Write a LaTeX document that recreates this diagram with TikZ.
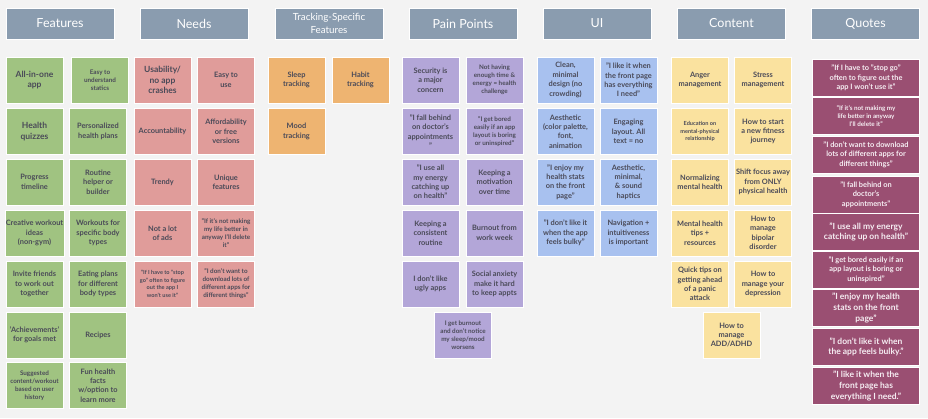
\documentclass[tikz,border=0pt]{standalone}
\usepackage{fontspec}
\setmainfont{Lato}
\definecolor{bg}{HTML}{F3F3F3}
\definecolor{slate}{HTML}{8A9CAF}
\definecolor{ink}{HTML}{4A4A58}
\definecolor{qtext}{HTML}{F6EEF3}
\definecolor{grn}{HTML}{A0C381}
\definecolor{rose}{HTML}{E09C9A}
\definecolor{amber}{HTML}{EEB471}
\definecolor{lilac}{HTML}{B3A6D8}
\definecolor{sky}{HTML}{A8C1EF}
\definecolor{butter}{HTML}{FAE29F}
\definecolor{plum}{HTML}{9A4F72}
\begin{document}
\begin{tikzpicture}[x=1pt, y=-1pt,
    hdr/.style={fill=slate, draw=white, line width=0.6pt, minimum width=108pt,
      minimum height=31pt, inner sep=1pt, align=center, text=white,
      font=\fontsize{12.5}{14}\selectfont},
    sticky/.style={draw=white, line width=0.6pt, minimum width=57pt,
      minimum height=46pt, inner sep=1pt, align=center, text=ink},
    quo/.style={fill=plum, draw=white, line width=0.6pt, minimum width=107pt,
      minimum height=37pt, inner sep=1pt, align=center, text=qtext},
    fL/.style={font=\bfseries\fontsize{8.5}{10.6}\selectfont},
    fM/.style={font=\bfseries\fontsize{7.4}{9.4}\selectfont},
    fS/.style={font=\bfseries\fontsize{6.3}{8}\selectfont},
    fXS/.style={font=\bfseries\fontsize{5.6}{7.5}\selectfont}]
  \fill[bg] (0,0) rectangle (928,418);
  \useasboundingbox (0,0) rectangle (928,418);
  % column headers
  \node[hdr] (hf) at (60,23.5) {Features};
  \node[hdr] (hn) at (194,23.5) {Needs};
  \node[hdr, font=\fontsize{9.8}{12.5}\selectfont] (ht) at (329,23.5) {Tracking-Specific\\Features};
  \node[hdr] (hp) at (463,23.5) {Pain Points};
  \node[hdr] (hu) at (597,23.5) {UI};
  \node[hdr] (hc) at (731.5,23.5) {Content};
  \node[hdr] (hq) at (865.5,23.5) {Quotes};
  % features
  \begin{scope}[xshift=34.5pt, sticky/.append style={fill=grn}]
    \node[sticky, fL] (f1) at (0,80) {All-in-one\\app};
    \node[sticky, fS] (f2) at (65.5,80) {Easy to\\understand\\statics};
    \node[sticky, fL] (f3) at (0,131.5) {Health\\quizzes};
    \node[sticky, fM] (f4) at (63.5,131.5) {Personalized\\health plans};
    \node[sticky, fM] (f5) at (0,182) {Progress\\timeline};
    \node[sticky, fM] (f6) at (63.5,182) {Routine\\helper or\\builder};
    \node[sticky, fM] (f7) at (0,233) {Creative workout\\ideas\\(non-gym)};
    \node[sticky, fM] (f8) at (63.5,233) {Workouts for\\specific body\\types};
    \node[sticky, fM] (f9) at (0,284) {Invite friends\\to work out\\together};
    \node[sticky, fM] (f10) at (63.5,284) {Eating plans\\for different\\body types};
    \node[sticky, fM] (f11) at (0,335) {'Achievements'\\for goals met};
    \node[sticky, fM] (f12) at (63.5,335) {Recipes};
    \node[sticky, fS] (f13) at (0,385.5) {Suggested\\content/workout\\based on user\\history};
    \node[sticky, fM] (f14) at (63.5,385.5) {Fun health\\facts\\w/option to\\learn more};
  \end{scope}
  % needs
  \begin{scope}[xshift=162.5pt, sticky/.append style={fill=rose}]
    \node[sticky, fL] (n1) at (0,80) {Usability/\\no app\\crashes};
    \node[sticky, fM] (n2) at (63.5,80) {Easy to\\use};
    \node[sticky, fM] (n3) at (0,131.5) {Accountability};
    \node[sticky, fM] (n4) at (63.5,131.5) {Affordability\\or free\\versions};
    \node[sticky, fM] (n5) at (0,182) {Trendy};
    \node[sticky, fM] (n6) at (63.5,182) {Unique\\features};
    \node[sticky, fM] (n7) at (0,233) {Not a lot\\of ads};
    \node[sticky, fS] (n8) at (63.5,233) {"If it's not making\\my life better in\\anyway I'll delete\\it"};
    \node[sticky, fXS] (n9) at (0,284) {"If I have to "stop\\go" often to figure\\out the app I\\won't use it"};
    \node[sticky, fS] (n10) at (63.5,284) {"I don't want to\\download lots of\\different apps for\\different things"};
  \end{scope}
  % tracking-specific features
  \begin{scope}[xshift=296.5pt, sticky/.append style={fill=amber}]
    \node[sticky, fM] (t1) at (0,80) {Sleep\\tracking};
    \node[sticky, fM] (t2) at (64,80) {Habit\\tracking};
    \node[sticky, fM] (t3) at (0,131.5) {Mood\\tracking};
  \end{scope}
  % pain points
  \begin{scope}[xshift=430.5pt, sticky/.append style={fill=lilac}]
    \node[sticky, fM] (p1) at (0,80) {Security is\\a major\\concern};
    \node[sticky, fS] (p2) at (64,80) {Not having\\enough time \&\\energy = health\\challenge};
    \node[sticky, fM] (p3) at (0,131.5) {"I fall behind\\on doctor's\\appointments\\"};
    \node[sticky, fS] (p4) at (64,131.5) {"I get bored\\easily if an app\\layout is boring\\or uninspired"};
    \node[sticky, fM] (p5) at (0,182) {"I use all\\my energy\\catching up\\on health"};
    \node[sticky, fM] (p6) at (64,182) {Keeping a\\motivation\\over time};
    \node[sticky, fM] (p7) at (0,233) {Keeping a\\consistent\\routine};
    \node[sticky, fM] (p8) at (64,233) {Burnout from\\work week};
    \node[sticky, fM] (p9) at (0,284) {I don't like\\ugly apps};
    \node[sticky, fM] (p10) at (64,284) {Social anxiety\\make it hard\\to keep appts};
    \node[sticky, fS] (p11) at (32.5,335.5) {I get burnout\\and don't notice\\my sleep/mood\\worsens};
  \end{scope}
  % ui
  \begin{scope}[xshift=565.5pt, sticky/.append style={fill=sky}]
    \node[sticky, fM] (u1) at (0,80) {Clean,\\minimal\\design (no\\crowding)};
    \node[sticky, fM] (u2) at (63,80) {"I like it when\\the front page\\has everything\\I need"};
    \node[sticky, fM] (u3) at (0,131.5) {Aesthetic\\(color palette,\\font,\\animation};
    \node[sticky, fM] (u4) at (63,131.5) {Engaging\\layout. All\\text = no};
    \node[sticky, fM] (u5) at (0,182) {"I enjoy my\\health stats\\on the front\\page"};
    \node[sticky, fM] (u6) at (63,182) {Aesthetic,\\minimal,\\\& sound\\haptics};
    \node[sticky, fM] (u7) at (0,233) {"I don't like it\\when the app\\feels bulky"};
    \node[sticky, fM] (u8) at (63,233) {Navigation +\\intuitiveness\\is important};
  \end{scope}
  % content
  \begin{scope}[xshift=700pt, sticky/.append style={fill=butter}]
    \node[sticky, fM] (c1) at (0,80) {Anger\\management};
    \node[sticky, fM] (c2) at (63,80) {Stress\\management};
    \node[sticky, fXS] (c3) at (0,131.5) {Education on\\mental-physical\\relationship};
    \node[sticky, fM] (c4) at (63,131.5) {How to start\\a new fitness\\journey};
    \node[sticky, fM] (c5) at (0,182) {Normalizing\\mental health};
    \node[sticky, fM] (c6) at (63,182) {Shift focus away\\from ONLY\\physical health};
    \node[sticky, fM] (c7) at (0,233) {Mental health\\tips +\\resources};
    \node[sticky, fM] (c8) at (63,233) {How to\\manage\\bipolar\\disorder};
    \node[sticky, fM] (c9) at (0,284) {Quick tips on\\getting ahead\\of a panic\\attack};
    \node[sticky, fM] (c10) at (63,284) {How to\\manage your\\depression};
    \node[sticky, fM] (c11) at (31.5,335) {How to\\manage\\ADD/ADHD};
  \end{scope}
  % quotes
  \begin{scope}[xshift=866pt]
    \node[quo, fM] (q1) at (0,78) {"If I have to "stop go"\\often to figure out the\\app I won't use it"};
    \node[quo, fS] (q2) at (0,116) {"If it's not making my\\life better in anyway\\I'll delete it"};
    \node[quo, fM] (q3) at (0,154.5) {"I don't want to download\\lots of different apps for\\different things"};
    \node[quo, fM] (q4) at (0,194.5) {"I fall behind on\\doctor's\\appointments"};
    \node[quo, fL] (q5) at (0,232) {"I use all my energy\\catching up on health"};
    \node[quo, fM] (q6) at (0,269.5) {"I get bored easily if an\\app layout is boring or\\uninspired"};
    \node[quo, fL] (q7) at (0,308) {"I enjoy my health\\stats on the front\\page"};
    \node[quo, fL] (q8) at (0,347) {"I don't like it when\\the app feels bulky."};
    \node[quo, fL] (q9) at (0,386) {"I like it when the\\front page has\\everything I need."};
  \end{scope}
\end{tikzpicture}
\end{document}
